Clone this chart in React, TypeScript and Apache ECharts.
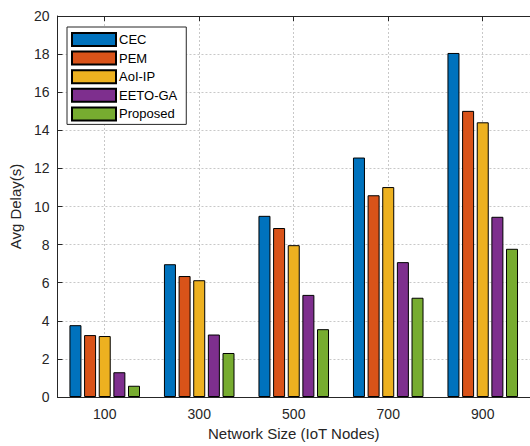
import React, { useEffect, useRef } from "react";
import * as echarts from "echarts";

const categories = ["100", "300", "500", "700", "900"];
const seriesNames = ["CEC", "PEM", "AoI-IP", "EETO-GA", "Proposed"];
const cec = [3.77, 6.97, 9.51, 12.57, 18.06];
const pem = [3.25, 6.35, 8.87, 10.59, 15.02];
const aoiIp = [3.2, 6.13, 7.97, 11.02, 14.42];
const eetoGa = [1.3, 3.28, 5.36, 7.08, 9.46];
const proposed = [0.59, 2.31, 3.56, 5.21, 7.78];
const colors = ["#0072BD", "#D95319", "#EDB120", "#7E2F8E", "#77AC30"];
const yTicks = { min: 0, max: 20, interval: 2 };

export default function App() {
  const ref = useRef<HTMLDivElement>(null);
  useEffect(() => {
    if (!ref.current) return;
    const chart = echarts.init(ref.current, undefined, { renderer: "svg" });
    const values = [cec, pem, aoiIp, eetoGa, proposed];
    const font = "Liberation Sans, Arial, sans-serif";
    const gridLine = { show: true, lineStyle: { color: "#c8c8c8", type: [2, 2] as any, width: 1 } };
    chart.setOption({
      animation: false,
      textStyle: { fontFamily: font },
      grid: { left: 54, top: 16, width: 481, height: 384 },
      legend: {
        orient: "vertical",
        left: 67,
        top: 27,
        icon: "rect",
        itemWidth: 44,
        itemHeight: 13,
        itemGap: 3.6,
        padding: [5, 9, 3, 4],
        backgroundColor: "#fff",
        borderColor: "#262626",
        borderWidth: 1,
        borderRadius: 0,
        textStyle: { fontSize: 13, lineHeight: 13, color: "#000", fontFamily: font, padding: [0, 0, 0, -2] },
        data: seriesNames,
      },
      xAxis: [
        {
          type: "category",
          data: categories,
          position: "bottom",
          name: "Network Size (IoT Nodes)",
          nameLocation: "middle",
          nameGap: 29,
          nameTextStyle: { fontSize: 15, color: "#262626", fontFamily: font },
          axisLine: { show: true, lineStyle: { color: "#262626", width: 1 } },
          axisTick: { show: true, inside: true, alignWithLabel: true, length: 5, lineStyle: { color: "#262626" } },
          axisLabel: { fontSize: 14, color: "#262626", margin: 10, fontFamily: font },
          splitLine: { ...gridLine, alignWithLabel: true },
        },
        {
          type: "category",
          data: categories,
          position: "top",
          axisLine: { show: true, lineStyle: { color: "#262626", width: 1 } },
          axisTick: { show: true, inside: true, alignWithLabel: true, length: 5, lineStyle: { color: "#262626" } },
          axisLabel: { show: false },
          splitLine: { show: false },
        },
      ],
      yAxis: {
        type: "value",
        min: yTicks.min,
        max: yTicks.max,
        interval: yTicks.interval,
        name: "Avg Delay(s)",
        nameLocation: "middle",
        nameGap: 29,
        nameTextStyle: { fontSize: 15, color: "#262626", fontFamily: font },
        axisLine: { show: true, lineStyle: { color: "#262626", width: 1 } },
        axisTick: { show: true, inside: true, length: 5, lineStyle: { color: "#262626" } },
        axisLabel: { fontSize: 14, color: "#262626", margin: 8, fontFamily: font },
        splitLine: gridLine,
      },
      series: seriesNames.map((name, i) => ({
        name,
        type: "bar",
        xAxisIndex: 0,
        data: values[i],
        barWidth: 12,
        barGap: "22%",
        itemStyle: { color: colors[i], borderColor: "#000", borderWidth: 1 },
      })),
    });
    return () => chart.dispose();
  }, []);
  return (
    <div
      ref={ref}
      style={{ position: "fixed", left: 0, top: 0, width: 530, height: 446, background: "#fff" }}
    />
  );
}
